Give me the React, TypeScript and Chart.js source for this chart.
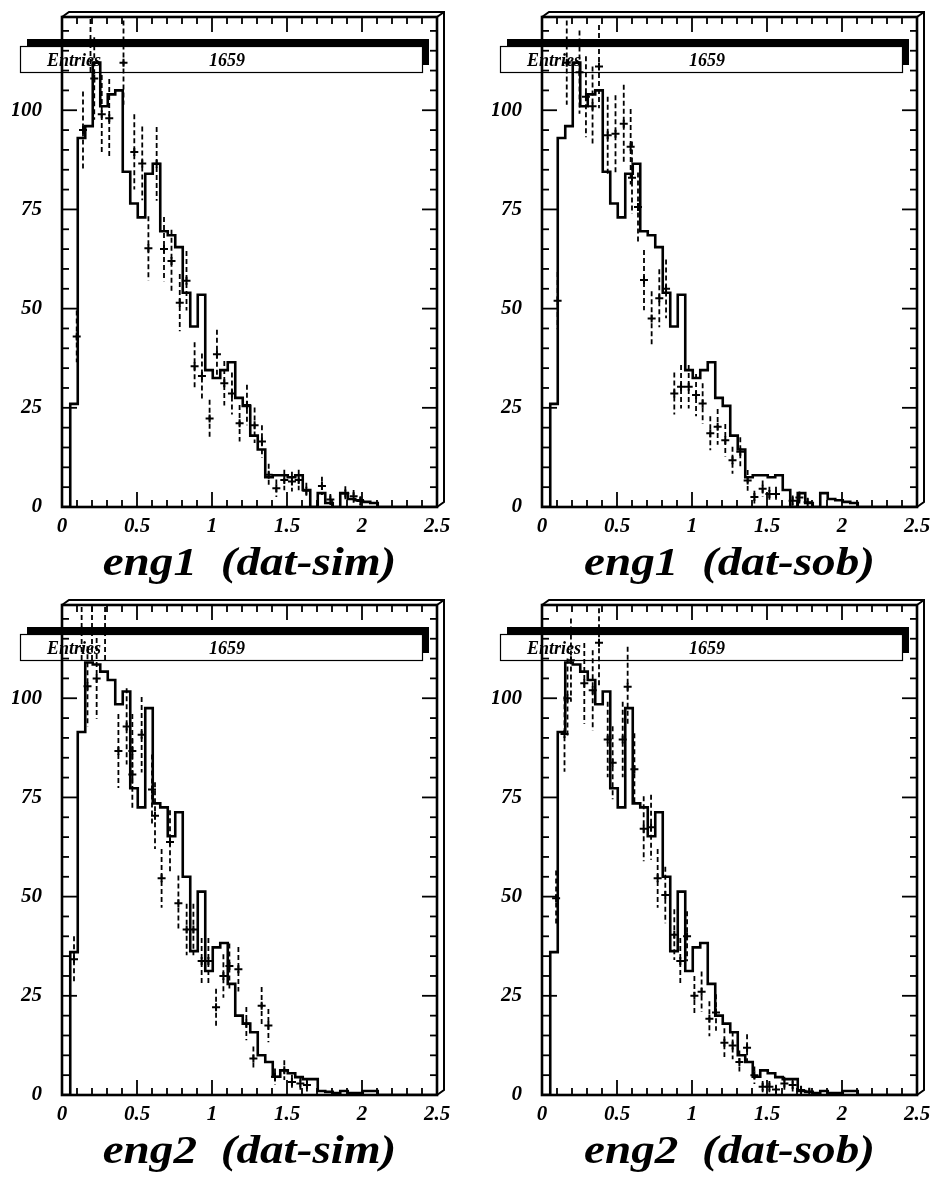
import React, { useEffect, useRef } from 'react';
import { Chart, registerables } from 'chart.js';

Chart.register(...registerables);

// ---------- data ----------
const BIN_START = 0.055;
const BIN_WIDTH = 0.05;

const ENG1_COUNTS = [26, 93, 96, 112, 101, 104, 105, 84.5, 76.5, 73, 84, 86.5, 69.5, 68.5, 65.5, 54, 45.5, 53.5, 34.5, 32.5, 34.5, 36.5, 27.5, 25.5, 18, 14.5, 7.5, 8, 8, 7.5, 8, 4.3, 0, 3.5, 1, 0, 3.5, 2, 1.7, 1.3, 1];
const ENG2_COUNTS = [36, 91.5, 109, 108.5, 106.7, 104.6, 98.5, 101.7, 77.3, 72.5, 97.5, 73.5, 72.5, 65.2, 71.25, 55, 36.25, 51.25, 31.25, 37.2, 38.3, 28, 20, 18, 15.8, 10, 8.3, 4.6, 6.2, 5.5, 4.5, 4, 4, 1, 0.8, 0.5, 1, 0.5, 0.5, 1, 1];

const SIM1_X = [0.098, 0.14, 0.19, 0.215, 0.265, 0.315, 0.41, 0.482, 0.535, 0.631, 0.576, 0.68, 0.73, 0.785, 0.83, 0.884, 0.933, 0.984, 1.033, 1.082, 1.133, 1.184, 1.233, 1.284, 1.333, 1.378, 1.429, 1.482, 1.533, 1.578, 1.629, 1.733, 1.789, 1.889, 1.944, 1.989];
const SIM1_Y = [43, 95, 117, 108, 99, 98, 112, 89.5, 86.6, 86.5, 65.2, 65, 62, 51.5, 57, 35.5, 33, 22.3, 38.5, 31.2, 28.6, 21.1, 25.7, 20.6, 16.5, 8.1, 4.7, 6.8, 6.4, 6.8, 4.1, 5.3, 1.9, 3.4, 2.7, 1.5];
const SIM1_E = [6.5, 9.7, 8, 10.4, 9.9, 9.9, 10.6, 9.5, 9.3, 9.3, 8.1, 8.1, 7.9, 7.2, 7.5, 6, 5.7, 4.7, 6.2, 5.6, 5.3, 4.6, 5.1, 4.5, 4.1, 2.8, 2.2, 2.6, 2.5, 2.6, 2, 2.3, 1.4, 1.8, 1.6, 1.2];

const SOB1_X = [0.104, 0.165, 0.25, 0.293, 0.337, 0.38, 0.438, 0.49, 0.545, 0.591, 0.6, 0.64, 0.68, 0.731, 0.782, 0.827, 0.882, 0.927, 0.978, 1.027, 1.071, 1.122, 1.171, 1.222, 1.27, 1.322, 1.371, 1.416, 1.471, 1.516, 1.56, 1.671, 1.716, 1.771];
const SOB1_Y = [52, 112, 109.6, 103.4, 101, 111, 93.7, 94.1, 96.6, 90.8, 83, 75.6, 57.2, 47.5, 52.6, 55, 28.6, 30.3, 30.3, 28.2, 26.1, 18.6, 20.2, 16.8, 11.8, 13.9, 6.7, 2.5, 4.6, 3.3, 3.3, 1.6, 2.4, 1.2];
const SOB1_E = [7.2, 10.6, 10.5, 10.2, 10, 10.5, 9.7, 9.7, 9.8, 9.5, 9.1, 8.7, 7.6, 6.9, 7.3, 7.4, 5.3, 5.5, 5.5, 5.3, 5.1, 4.3, 4.5, 4.1, 3.4, 3.7, 2.6, 1.6, 2.1, 1.8, 1.8, 1.3, 1.5, 1.1];

const SIM2_X = [0.08, 0.131, 0.17, 0.2, 0.231, 0.287, 0.376, 0.431, 0.469, 0.469, 0.531, 0.6, 0.62, 0.664, 0.72, 0.776, 0.831, 0.876, 0.931, 0.976, 1.027, 1.076, 1.116, 1.176, 1.229, 1.276, 1.331, 1.376, 1.42, 1.482, 1.533, 1.589, 1.633];
const SIM2_Y = [34.2, 117, 103, 117, 105, 117, 86.7, 92.9, 86.7, 80.8, 90.8, 77, 70.4, 54.6, 63.75, 48.3, 41.7, 41.7, 33.75, 33.75, 22.1, 30, 32.5, 31.7, 18, 9.2, 22.5, 17.5, 4.6, 6.25, 3.3, 2.9, 2.5];
const SIM2_E = [5.8, 8, 10.1, 8, 10.2, 8, 9.3, 9.6, 9.3, 9, 9.5, 8.8, 8.4, 7.4, 8, 7, 6.5, 6.5, 5.8, 5.8, 4.7, 5.5, 5.7, 5.6, 4.2, 3, 4.7, 4.2, 2.1, 2.5, 1.8, 1.7, 1.6];

const SOB2_X = [0.094, 0.15, 0.17, 0.193, 0.282, 0.338, 0.38, 0.438, 0.471, 0.538, 0.571, 0.616, 0.678, 0.727, 0.771, 0.822, 0.882, 0.922, 0.967, 1.016, 1.064, 1.116, 1.16, 1.216, 1.271, 1.316, 1.367, 1.416, 1.471, 1.516, 1.56, 1.616, 1.671, 1.727, 1.782];
const SOB2_Y = [49.6, 91, 100, 109.6, 103.75, 102, 114, 89.6, 83.75, 89.6, 102.9, 82.1, 67.1, 67.5, 54.6, 50.4, 40.4, 33.75, 40, 25, 26, 19.2, 20.8, 13.2, 12.5, 8.3, 11.9, 5, 2.1, 2.1, 1.4, 2.9, 2.5, 1.25, 0.8];
const SOB2_E = [7, 9.5, 10, 10.5, 10.2, 10.1, 10.7, 9.5, 9.2, 9.5, 10.1, 9.1, 8.2, 8.2, 7.4, 7.1, 6.4, 5.8, 6.3, 5, 5.1, 4.4, 4.6, 3.6, 3.5, 2.9, 3.4, 2.2, 1.4, 1.4, 1.2, 1.7, 1.6, 1.1, 0.9];

const X_TICK_LABELS = ['0', '0.5', '1', '1.5', '2', '2.5'];
const Y_TICK_VALUES = [0, 25, 50, 75, 100];
const ENTRIES_LABEL = 'Entries';
const ENTRIES_VALUE = '1659';

const TITLES = ['eng1  (dat-sim)', 'eng1  (dat-sob)', 'eng2  (dat-sim)', 'eng2  (dat-sob)'];

// ---------- layout ----------
const SERIF = '"Liberation Serif", "Times New Roman", serif';
const CW = 453;
const X_MAX = 2.5;
const Y_MAX = 123.5;

type Spec = {
  title: string;
  counts: number[];
  px: number[];
  py: number[];
  pe: number[];
  left: number;
  top: number;
  height: number;
};

const PANELS: Spec[] = [
  { title: TITLES[0], counts: ENG1_COUNTS, px: SIM1_X, py: SIM1_Y, pe: SIM1_E, left: 0, top: 0, height: 588 },
  { title: TITLES[1], counts: ENG1_COUNTS, px: SOB1_X, py: SOB1_Y, pe: SOB1_E, left: 480, top: 0, height: 588 },
  { title: TITLES[2], counts: ENG2_COUNTS, px: SIM2_X, py: SIM2_Y, pe: SIM2_E, left: 0, top: 588, height: 592 },
  { title: TITLES[3], counts: ENG2_COUNTS, px: SOB2_X, py: SOB2_Y, pe: SOB2_E, left: 480, top: 588, height: 592 },
];

function line(ctx: CanvasRenderingContext2D, x1: number, y1: number, x2: number, y2: number) {
  ctx.beginPath();
  ctx.moveTo(x1, y1);
  ctx.lineTo(x2, y2);
  ctx.stroke();
}

function Panel({ spec }: { spec: Spec }) {
  const ref = useRef<HTMLCanvasElement>(null);

  useEffect(() => {
    const canvas = ref.current;
    if (!canvas) return;

    const hist: { x: number; y: number }[] = [{ x: 0, y: 0 }];
    spec.counts.forEach((c, i) => hist.push({ x: BIN_START + i * BIN_WIDTH, y: c }));
    hist.push({ x: BIN_START + spec.counts.length * BIN_WIDTH, y: 0 });
    hist.push({ x: X_MAX, y: 0 });

    const pts = spec.px.map((x, i) => ({ x, y: spec.py[i] }));

    const statsPlugin = {
      id: 'statsBox',
      beforeDatasetsDraw(chart: any) {
        const { ctx, chartArea } = chart;
        const bl = chartArea.left - 42;
        const br = chartArea.right - 15;
        const bt = chartArea.top + 29;
        const bh = 26;
        ctx.save();
        ctx.fillStyle = '#000';
        ctx.fillRect(bl + 7, bt - 7, br - bl, bh);
        ctx.fillStyle = '#fff';
        ctx.fillRect(bl, bt, br - bl, bh);
        ctx.strokeStyle = '#000';
        ctx.lineWidth = 1.2;
        ctx.strokeRect(bl + 0.5, bt + 0.5, br - bl, bh);
        ctx.fillStyle = '#000';
        ctx.font = `italic bold 18px ${SERIF}`;
        ctx.textBaseline = 'alphabetic';
        ctx.textAlign = 'left';
        ctx.fillText(ENTRIES_LABEL, bl + 27, bt + 20);
        ctx.textAlign = 'center';
        ctx.fillText(ENTRIES_VALUE, bl + 207, bt + 20);
        ctx.restore();
      },
    };

    const errPlugin = {
      id: 'errBars',
      afterDatasetsDraw(chart: any) {
        const { ctx, chartArea, scales } = chart;
        const xs = scales.x;
        const ys = scales.y;
        ctx.save();
        ctx.beginPath();
        ctx.rect(chartArea.left, chartArea.top, chartArea.right - chartArea.left, chartArea.bottom - chartArea.top);
        ctx.clip();
        ctx.strokeStyle = '#000';
        ctx.lineWidth = 1.8;
        ctx.setLineDash([5, 3]);
        spec.px.forEach((x, i) => {
          const X = xs.getPixelForValue(x);
          const y1 = ys.getPixelForValue(spec.py[i] + spec.pe[i]);
          const y2 = ys.getPixelForValue(Math.max(0, spec.py[i] - spec.pe[i]));
          line(ctx, X, y1, X, y2);
        });
        ctx.restore();
      },
    };

    const framePlugin = {
      id: 'frame3d',
      afterDraw(chart: any) {
        const { ctx, chartArea, scales } = chart;
        const xs = scales.x;
        const ys = scales.y;
        const L = chartArea.left;
        const R = chartArea.right;
        const T = chartArea.top;
        const B = chartArea.bottom;
        const dx = 7;
        const dy = -5;
        ctx.save();
        ctx.strokeStyle = '#000';
        ctx.setLineDash([]);
        // ticks
        ctx.lineWidth = 1.8;
        for (let k = 0; k * 5 <= Y_MAX - 1; k++) {
          const v = k * 5;
          const yy = ys.getPixelForValue(v);
          const len = v % 25 === 0 ? 15 : 7;
          line(ctx, L, yy, L + len, yy);
          line(ctx, R, yy, R - len, yy);
        }
        for (let k = 0; k <= 25; k++) {
          const xx = xs.getPixelForValue(k / 10);
          const len = k % 5 === 0 ? 15 : 7;
          line(ctx, xx, B, xx, B - len);
          line(ctx, xx, T, xx, T + len);
        }
        // 3D back faces
        ctx.lineWidth = 2;
        ctx.beginPath();
        ctx.moveTo(L, T);
        ctx.lineTo(L + dx, T + dy);
        ctx.lineTo(R + dx, T + dy);
        ctx.lineTo(R + dx, B + dy);
        ctx.lineTo(R, B);
        ctx.stroke();
        line(ctx, R, T, R + dx, T + dy);
        // main frame
        ctx.lineWidth = 2.6;
        ctx.strokeRect(L, T, R - L, B - T);
        // title
        ctx.fillStyle = '#000';
        ctx.font = `italic bold 40px ${SERIF}`;
        ctx.textAlign = 'center';
        ctx.textBaseline = 'alphabetic';
        ctx.translate((L + R) / 2, 575);
        ctx.scale(1.18, 1);
        ctx.fillText(spec.title, 0, 0);
        ctx.restore();
      },
    };

    const tickFont = { family: SERIF, size: 21, style: 'italic' as const, weight: 'bold' as const };

    const chart = new Chart(canvas, {
      type: 'scatter',
      data: {
        datasets: [
          {
            label: 'data',
            data: hist,
            showLine: true,
            stepped: 'before',
            borderColor: '#000',
            borderWidth: 2.6,
            pointRadius: 0,
            fill: false,
          } as any,
          {
            label: 'mc',
            data: pts,
            showLine: false,
            pointStyle: 'cross',
            pointRadius: 4,
            borderColor: '#000',
            backgroundColor: '#000',
            borderWidth: 2,
          } as any,
        ],
      },
      options: {
        responsive: false,
        animation: false,
        devicePixelRatio: 1,
        layout: { padding: { left: 12, right: CW - 437, top: 17, bottom: spec.height - 507 - 30 } },
        plugins: {
          legend: { display: false },
          tooltip: { enabled: false },
          title: { display: false },
        },
        scales: {
          x: {
            type: 'linear',
            min: 0,
            max: X_MAX,
            grid: { display: false, drawTicks: false },
            border: { display: false },
            ticks: {
              stepSize: 0.5,
              autoSkip: false,
              maxRotation: 0,
              padding: 7,
              color: '#000',
              font: tickFont,
              callback: (v: any) => {
                const idx = Math.round(Number(v) * 2);
                return X_TICK_LABELS[idx] ?? '';
              },
            },
            afterFit: (s: any) => {
              s.height = 30;
              s.paddingLeft = 0;
              s.paddingRight = 0;
              s.paddingTop = 0;
              s.paddingBottom = 0;
            },
          },
          y: {
            type: 'linear',
            min: 0,
            max: Y_MAX,
            grid: { display: false, drawTicks: false },
            border: { display: false },
            afterBuildTicks: (s: any) => {
              s.ticks = Y_TICK_VALUES.map((v) => ({ value: v }));
            },
            ticks: {
              autoSkip: false,
              padding: 20,
              color: '#000',
              font: tickFont,
              callback: (v: any) => String(v),
            },
            afterFit: (s: any) => {
              s.width = 50;
              s.paddingLeft = 0;
              s.paddingRight = 0;
              s.paddingTop = 0;
              s.paddingBottom = 0;
            },
          },
        },
      } as any,
      plugins: [statsPlugin, errPlugin, framePlugin],
    });

    return () => chart.destroy();
  }, [spec]);

  return (
    <canvas
      ref={ref}
      width={CW}
      height={spec.height}
      style={{ position: 'absolute', left: spec.left, top: spec.top, width: CW, height: spec.height }}
    />
  );
}

export default function App() {
  return (
    <div style={{ position: 'absolute', left: 0, top: 0, width: 932, height: 1180, background: '#fff', overflow: 'hidden' }}>
      {PANELS.map((p, i) => (
        <Panel key={i} spec={p} />
      ))}
    </div>
  );
}
